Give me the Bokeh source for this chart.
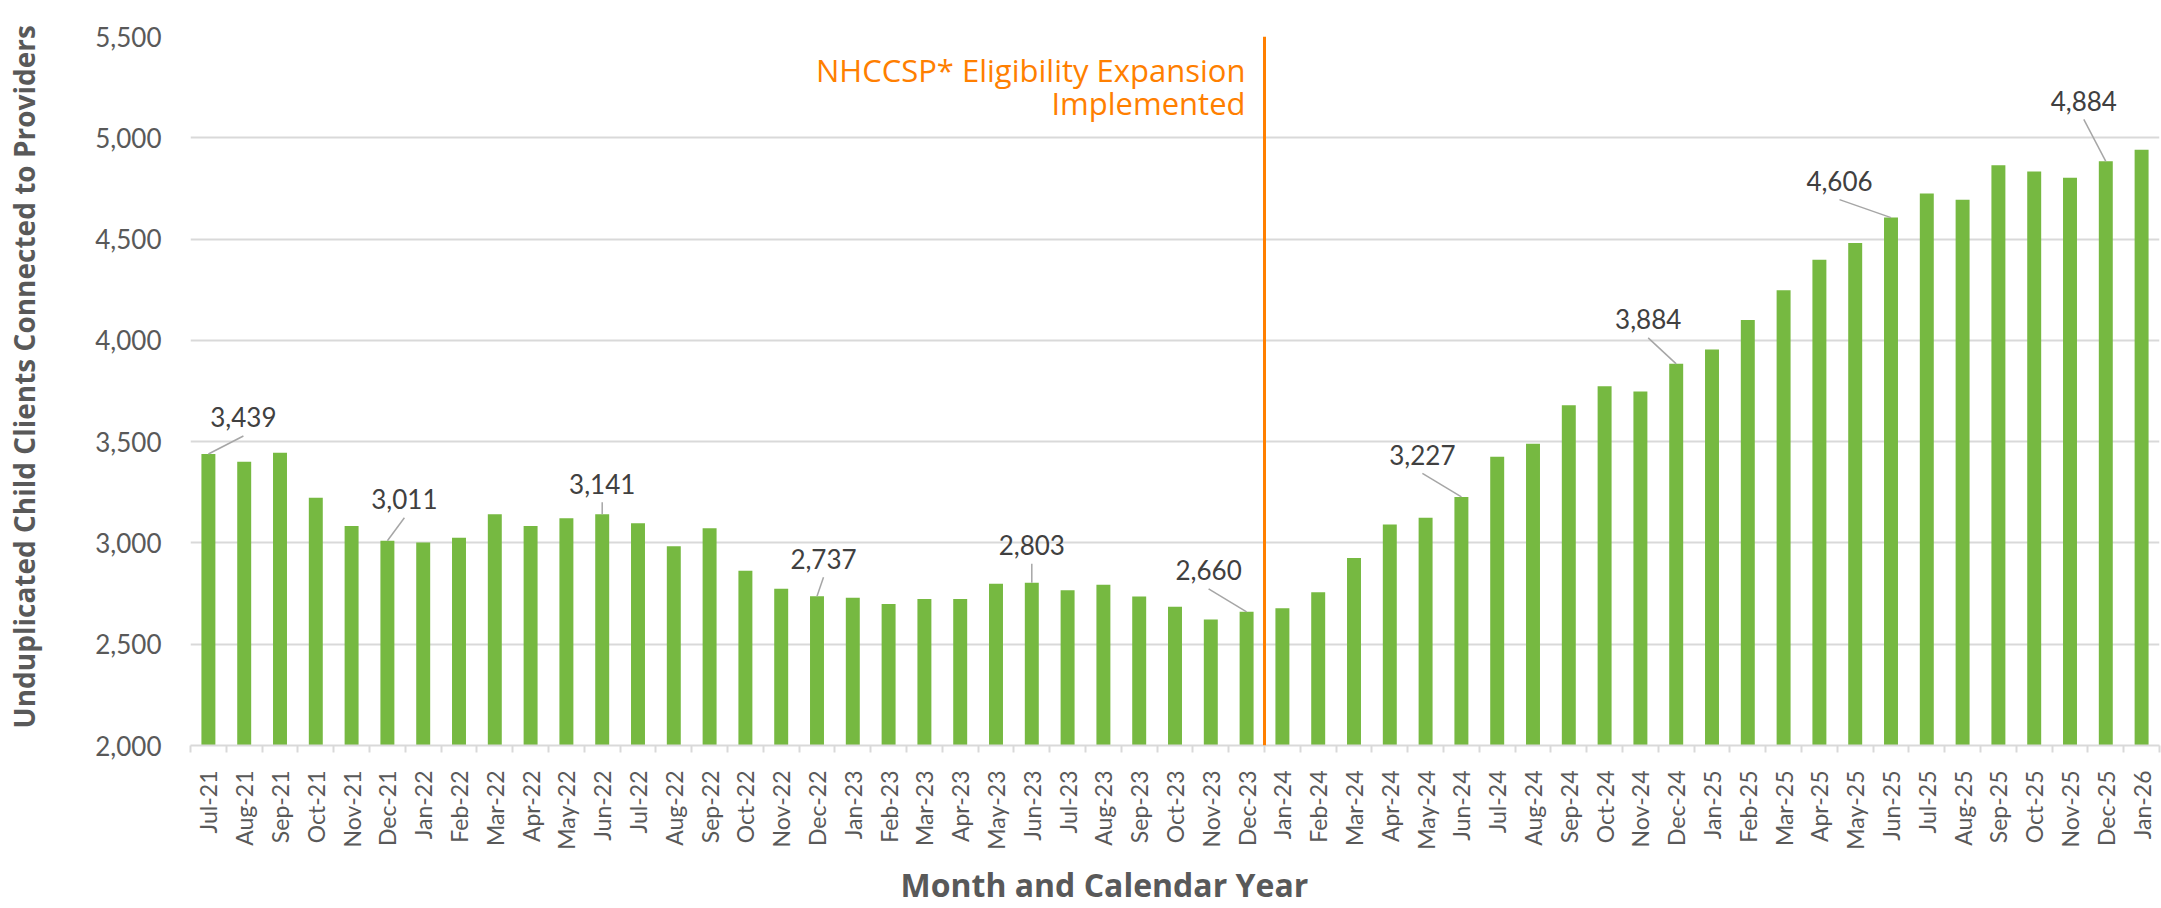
import math
from bokeh.plotting import figure
from bokeh.models import Range1d, FixedTicker, NumeralTickFormatter, Span, Label, Title
from bokeh.embed import file_html
from bokeh.resources import INLINE
from bokeh.core.properties import value

# ---------------- data ----------------
months = [
    "Jul-21", "Aug-21", "Sep-21", "Oct-21", "Nov-21", "Dec-21",
    "Jan-22", "Feb-22", "Mar-22", "Apr-22", "May-22", "Jun-22",
    "Jul-22", "Aug-22", "Sep-22", "Oct-22", "Nov-22", "Dec-22",
    "Jan-23", "Feb-23", "Mar-23", "Apr-23", "May-23", "Jun-23",
    "Jul-23", "Aug-23", "Sep-23", "Oct-23", "Nov-23", "Dec-23",
    "Jan-24", "Feb-24", "Mar-24", "Apr-24", "May-24", "Jun-24",
    "Jul-24", "Aug-24", "Sep-24", "Oct-24", "Nov-24", "Dec-24",
    "Jan-25", "Feb-25", "Mar-25", "Apr-25", "May-25", "Jun-25",
    "Jul-25", "Aug-25", "Sep-25", "Oct-25", "Nov-25", "Dec-25",
    "Jan-26",
]
clients = [
    3439, 3401, 3445, 3223, 3084, 3011,
    3002, 3026, 3142, 3084, 3122, 3141,
    3097, 2983, 3072, 2863, 2774, 2737,
    2729, 2698, 2723, 2723, 2799, 2803,
    2767, 2794, 2736, 2685, 2622, 2660,
    2678, 2756, 2926, 3091, 3124, 3227,
    3426, 3490, 3680, 3773, 3748, 3884,
    3955, 4100, 4247, 4398, 4480, 4606,
    4725, 4694, 4865, 4834, 4803, 4884,
    4941,
]
y_ticks = [2000, 2500, 3000, 3500, 4000, 4500, 5000, 5500]

labeled_months = ["Jul-21", "Dec-21", "Jun-22", "Dec-22", "Jun-23",
                  "Dec-23", "Jun-24", "Dec-24", "Jun-25", "Dec-25"]
# leader-line end offsets (screen px) from the bar top
label_dx_px = [35, 17, 0, 6.5, 0, -38, -39, -28, -51.5, -22]
label_dy_px = [-18, -23, -12, -19, -19, -23, -23.6, -26, -18, -42]

expansion_month = "Jan-24"
expansion_text_1 = "NHCCSP* Eligibility Expansion"
expansion_text_2 = "Implemented"
y_title = "Unduplicated Child Clients Connected to Providers"
x_title = "Month and Calendar Year"

# ---------------- layout ----------------
W, H = 2161, 908
LB, RB, TB, BB = 190, 2, 36, 163
FW = W - LB - RB
FH = H - TB - BB
Y0, Y1 = y_ticks[0], y_ticks[-1]
n = len(months)
px_x = FW / n
px_y = FH / (Y1 - Y0)

GREEN = "#76B941"
ORANGE = "#FF7F00"
GRID = "#D9D9D9"
TXT = "#595959"
FONT = "Lato"
TFONT = "Open Sans"

p = figure(width=W, height=H, x_range=Range1d(0, n), y_range=Range1d(Y0, Y1),
           output_backend="svg", toolbar_location=None,
           min_border_left=LB, min_border_right=RB,
           min_border_top=TB, min_border_bottom=BB)
p.outline_line_color = None
p.background_fill_color = "white"
p.border_fill_color = "white"

xs = [i + 0.5 for i in range(n)]
p.vbar(x=xs, top=clients, bottom=Y0, width=0.39, fill_color=GREEN, line_color=None)

# x axis
xa = p.xaxis[0]
xa.ticker = FixedTicker(ticks=xs, minor_ticks=list(range(n + 1)))
xa.major_label_overrides = {xs[i]: months[i] for i in range(n)}
xa.major_tick_out = 0
xa.major_tick_in = 0
xa.minor_tick_out = 7
xa.minor_tick_in = 0
xa.minor_tick_line_color = GRID
xa.minor_tick_line_width = 2
xa.axis_line_color = GRID
xa.axis_line_width = 2
xa.major_label_orientation = math.pi / 2
xa.major_label_standoff = 18
xa.major_label_text_font = FONT
xa.major_label_text_font_size = "23px"
xa.major_label_text_color = TXT

# y axis
ya = p.yaxis[0]
ya.ticker = FixedTicker(ticks=y_ticks)
ya.formatter = NumeralTickFormatter(format="0,0")
ya.axis_line_color = None
ya.major_tick_line_color = None
ya.minor_tick_line_color = None
ya.major_label_standoff = 23
ya.major_label_text_font = FONT
ya.major_label_text_font_size = "26px"
ya.major_label_text_color = TXT

p.xgrid.visible = False
p.ygrid.grid_line_color = GRID
p.ygrid.grid_line_width = 2

# expansion marker
idx = months.index(expansion_month)
p.add_layout(Span(location=idx, dimension="height", line_color=ORANGE, line_width=3))
p.add_layout(Label(x=idx, y=676, x_units="data", y_units="screen", x_offset=-19,
                   text=expansion_text_1, text_align="right", text_baseline="alphabetic",
                   text_font=TFONT, text_font_size="31px", text_color=ORANGE))
p.add_layout(Label(x=idx, y=643, x_units="data", y_units="screen", x_offset=-19,
                   text=expansion_text_2, text_align="right", text_baseline="alphabetic",
                   text_font=TFONT, text_font_size="31px", text_color=ORANGE))

# data labels with leader lines
x0, y0, x1, y1, tx, ty, tt = [], [], [], [], [], [], []
for m, dx, dy in zip(labeled_months, label_dx_px, label_dy_px):
    i = months.index(m)
    v = clients[i]
    bx = i + 0.5
    ex = bx + dx / px_x
    ey = v - dy / px_y
    x0.append(bx); y0.append(v); x1.append(ex); y1.append(ey)
    tx.append(ex); ty.append(ey + 18.5 / px_y); tt.append(f"{v:,}")
p.segment(x0=x0, y0=y0, x1=x1, y1=y1, line_color="#A6A6A6", line_width=1.5)
p.text(x=tx, y=ty, text=tt, text_font=value(FONT), text_font_size=value("26px"),
       text_color="#404040", text_align="center", text_baseline="middle")

# axis titles (side titles, with thin spacers to set their distance)
p.add_layout(Title(text=" ", text_font_size="1px", standoff=47), "left")
p.add_layout(Title(text=y_title, align="left", offset=17, standoff=0,
                   vertical_align="bottom",
                   text_font=TFONT, text_font_style="bold", text_font_size="28px",
                   text_color=TXT), "left")
p.add_layout(Title(text=" ", text_font_size="1px", standoff=5), "below")
p.add_layout(Title(text=x_title, align="left", offset=710, standoff=0,
                   vertical_align="bottom",
                   text_font=TFONT, text_font_style="bold", text_font_size="32px",
                   text_color=TXT), "below")

open("out.html", "w").write(file_html(p, INLINE))
